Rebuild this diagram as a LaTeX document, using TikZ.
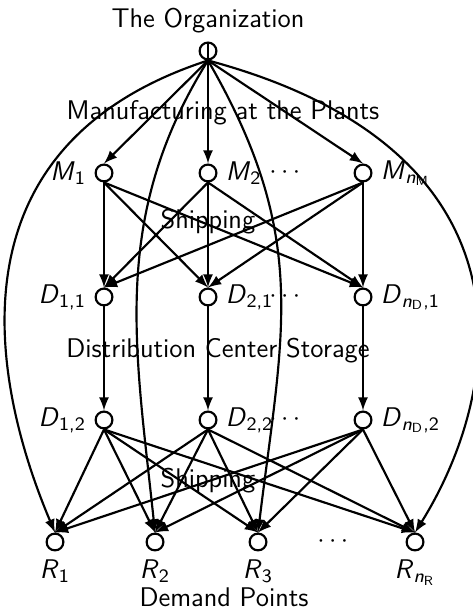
\documentclass[tikz,border=0pt]{standalone}
\usepackage{amsmath}
\usetikzlibrary{shapes,calc}

\newcommand{\vx}[2]{\textit{#1}\textsubscript{#2}}

\tikzset{
	loc/.style={circle,draw,line width=0.9pt,inner sep=0pt,minimum size=7pt},
	flow/.style={-latex,line width=0.9pt},
	lbl/.style={anchor=base},
}

\begin{document}
\sffamily
\begin{tikzpicture}[x=0.4167pt,y=0.4167pt,font=\fontsize{11.25}{13}\selectfont\sffamily]
	\useasboundingbox (0,0) rectangle (473,609);

	\node[lbl] (org) at (208,581) {The Organization};
	\node[loc] (O) at (208,558) {};

	\node[lbl] (manuf) at (223,489) {Manufacturing at the Plants};
	\node[loc,label={left:\vx{M}{1}}] (M1) at (104,436) {};
	\node[loc,label={right:\vx{M}{2}}] (M2) at (208,436) {};
	\node[loc,label={right:\vx{M}{\vx{n}{M}}}] (M3) at (363,436) {};
	\node (mdots) at (287,436) {$\cdots$};

	\node[lbl] (ship1) at (208,380) {Shipping};
	\node[loc,label={left:\vx{D}{1,1}}] (D11) at (104,312) {};
	\node[loc,label={right:\vx{D}{2,1}}] (D21) at (208,312) {};
	\node[loc,label={right:\vx{D}{\vx{n}{D},1}}] (D31) at (363,312) {};
	\node (d1dots) at (287,312) {$\cdots$};

	\node[lbl] (store) at (218,251) {Distribution Center Storage};
	\node[loc,label={left:\vx{D}{1,2}}] (D12) at (104,189) {};
	\node[loc,label={right:\vx{D}{2,2}}] (D22) at (208,189) {};
	\node[loc,label={right:\vx{D}{\vx{n}{D},2}}] (D32) at (363,189) {};
	\node (d2dots) at (287,189) {$\cdots$};

	\node[lbl] (ship2) at (208,121) {Shipping};
	\node[loc,label={below:\vx{R}{1}}] (R1) at (55,67) {};
	\node[loc,label={below:\vx{R}{2}}] (R2) at (155,67) {};
	\node[loc,label={below:\vx{R}{3}}] (R3) at (258,67) {};
	\node[loc,label={below:\vx{R}{\vx{n}{R}}}] (R4) at (415,67) {};
	\node (rdots) at (335,67) {$\cdots$};
	\node[lbl] (demand) at (224,3) {Demand Points};

	\draw[flow] (O.south) -- (M1.north);
	\draw[flow] (O.north) -- (M2.north);
	\draw[flow] (O.south) -- (M3.north);

	\draw[flow] (O.south) .. controls +(198:290) and +(113:140) .. (R1.north);
	\draw[flow] (O.south) to[out=238,in=96,looseness=1.0] (R2.north);
	\draw[flow] (O.south) to[out=300,in=83,looseness=1.1] (R3.north);
	\draw[flow] (O.south) .. controls +(345:350) and +(58:165) .. (R4.north);

	\foreach \m in {M1,M2,M3}
		\foreach \d in {D11,D21,D31}
			\draw[flow] (\m.south) -- (\d.north);
	\foreach \i in {1,2,3}
		\draw[flow] (D\i1.south) -- (D\i2.north);
	\foreach \d in {D12,D22,D32}
		\foreach \r in {R1,R2,R3,R4}
			\draw[flow] (\d.south) -- (\r.north);
\end{tikzpicture}
\end{document}
